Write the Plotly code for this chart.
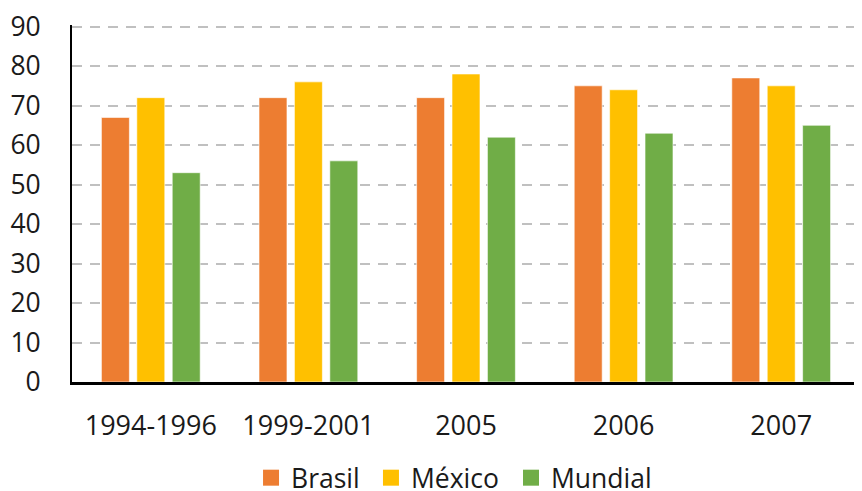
import plotly.graph_objects as go

categories = ["1994-1996", "1999-2001", "2005", "2006", "2007"]
brasil = [67, 72, 72, 75, 77]
mexico = [72, 76, 78, 74, 75]
mundial = [53, 56, 62, 63, 65]
series_names = ["Brasil", "México", "Mundial"]
colors = ["#ED7D31", "#FFC000", "#70AD47"]
y_ticks = [0, 10, 20, 30, 40, 50, 60, 70, 80, 90]

FONT = "Open Sans"
legend_ids = ["legend", "legend2", "legend3"]
legend_x = [0.2272, 0.3794, 0.5571]

fig = go.Figure()
for name, vals, col in zip(series_names, [brasil, mexico, mundial], colors):
    fig.add_trace(go.Bar(
        x=categories, y=vals, name=name, showlegend=False,
        marker=dict(color=col, line=dict(color="rgba(255,255,255,0.6)", width=1)),
    ))
for name, col, lid in zip(series_names, colors, legend_ids):
    fig.add_trace(go.Scatter(
        x=[None], y=[None], name=name, mode="markers", legend=lid,
        marker=dict(symbol="square", size=16, color=col),
    ))

legend_style = dict(orientation="h", xanchor="left", yref="container",
                    y=0.027, yanchor="middle", font=dict(size=26.5, family=FONT),
                    itemwidth=30, bgcolor="rgba(0,0,0,0)")
fig.update_layout(
    width=854, height=483,
    margin=dict(l=64, r=2, t=17, b=109, autoexpand=False),
    plot_bgcolor="white", paper_bgcolor="white",
    barmode="group", bargap=0.326, bargroupgap=0.21,
    font=dict(family=FONT, size=26, color="#1a1a1a"),
    showlegend=True,
    **{lid: dict(x=lx, **legend_style) for lid, lx in zip(legend_ids, legend_x)},
)
fig.update_yaxes(
    range=[0, 90.4], tickvals=y_ticks, showgrid=True, gridcolor="#C0C0C0",
    gridwidth=2, griddash="10px,8px", showline=True, linecolor="black",
    linewidth=2, ticks="", ticklabelstandoff=24, zeroline=False,
    automargin=False, ticklabeloverflow="allow",
    tickfont=dict(size=26.5, family=FONT),
)
fig.update_xaxes(
    showline=True, linecolor="black", linewidth=3, ticks="",
    automargin=False, ticklabelstandoff=18, ticklabeloverflow="allow",
    tickfont=dict(size=27, family=FONT),
)
fig.write_html("out.html")
